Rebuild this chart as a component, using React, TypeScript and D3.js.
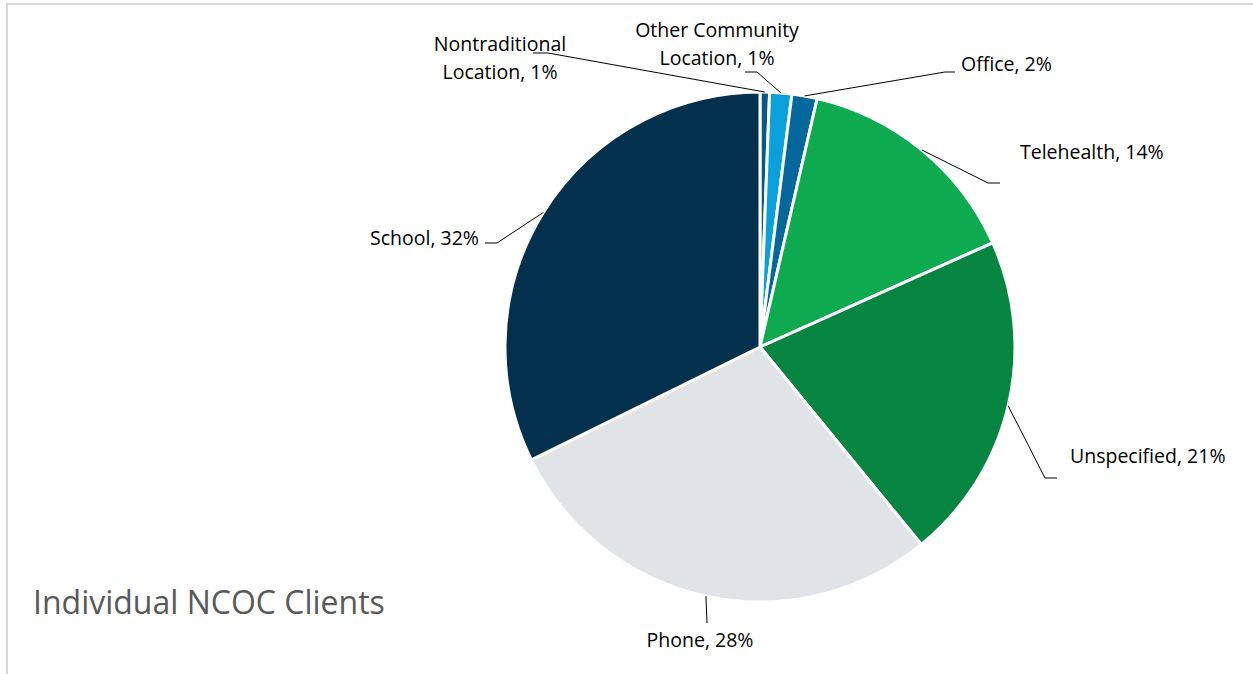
import React from "react";
import * as d3 from "d3";

const categories = ["Nontraditional Location", "Other Community Location", "Office", "Telehealth", "Unspecified", "Phone", "School"];
const values = [0.6, 1.4, 1.6, 14.7, 20.8, 28.6, 32.3];
const labelLines = [
  ["Nontraditional", "Location, 1%"],
  ["Other Community", "Location, 1%"],
  ["Office, 2%"],
  ["Telehealth, 14%"],
  ["Unspecified, 21%"],
  ["Phone, 28%"],
  ["School, 32%"],
];
const colors = ["#0B5785", "#0AA0DB", "#04689C", "#0DAA4F", "#068541", "#E1E4E7", "#03304D"];
const title = "Individual NCOC Clients";

// layout (relative to pie center): elbow point, end of horizontal tail, label anchor
const layout = [
  { elbow: [-212, -294], tail: [-227, -294], text: [-260, -296], anchor: "middle" },
  { elbow: [-3, -275], tail: [-15, -275], text: [-43, -310], anchor: "middle" },
  { elbow: [185, -275], tail: [195, -275], text: [201, -276], anchor: "start" },
  { elbow: [228, -164], tail: [240, -164], text: [260, -188], anchor: "start" },
  { elbow: [285, 131], tail: [297, 131], text: [310, 116], anchor: "start" },
  { elbow: [-53, 276], tail: [-53, 276], text: [-60, 300], anchor: "middle" },
  { elbow: [-263, -104], tail: [-275, -104], text: [-281, -102], anchor: "end" },
];

export default function App() {
  const W = 1253, H = 674;
  const cx = 760, cy = 347, r = 255;
  const pie = d3.pie<number>().value((d) => d).sort(null);
  const arcs = pie(values);
  const arcGen = d3.arc<d3.PieArcDatum<number>>().innerRadius(0).outerRadius(r);
  const font = "'Open Sans', sans-serif";
  return (
    <svg width={W} height={H} style={{ position: "absolute", left: 0, top: 0, background: "#fff" }}>
      <rect x={7} y={4} width={1400} height={800} fill="#fff" stroke="#D9D9D9" strokeWidth={2} />
      <g transform={`translate(${cx},${cy})`}>
        {arcs.map((a, i) => (
          <path key={categories[i]} d={arcGen(a) || ""} fill={colors[i]} stroke="#fff" strokeWidth={3} strokeLinejoin="round" />
        ))}
        {arcs.map((a, i) => {
          const mid = (a.startAngle + a.endAngle) / 2;
          const sx = Math.sin(mid) * r;
          const sy = -Math.cos(mid) * r;
          const L = layout[i];
          return (
            <g key={"lbl" + i}>
              <polyline
                points={`${sx},${sy} ${L.elbow[0]},${L.elbow[1]} ${L.tail[0]},${L.tail[1]}`}
                fill="none"
                stroke="#000"
                strokeWidth={1}
              />
              <text
                x={L.text[0]}
                y={L.text[1]}
                textAnchor={L.anchor as any}
                fontFamily={font}
                fontSize={19.5}
                fill="#000"
              >
                {labelLines[i].map((t, j) => (
                  <tspan key={j} x={L.text[0]} dy={j === 0 ? 0 : 27.5}>
                    {t}
                  </tspan>
                ))}
              </text>
            </g>
          );
        })}
      </g>
      <text x={33} y={614} fontFamily={font} fontSize={32} fill="#595959">
        {title}
      </text>
    </svg>
  );
}
